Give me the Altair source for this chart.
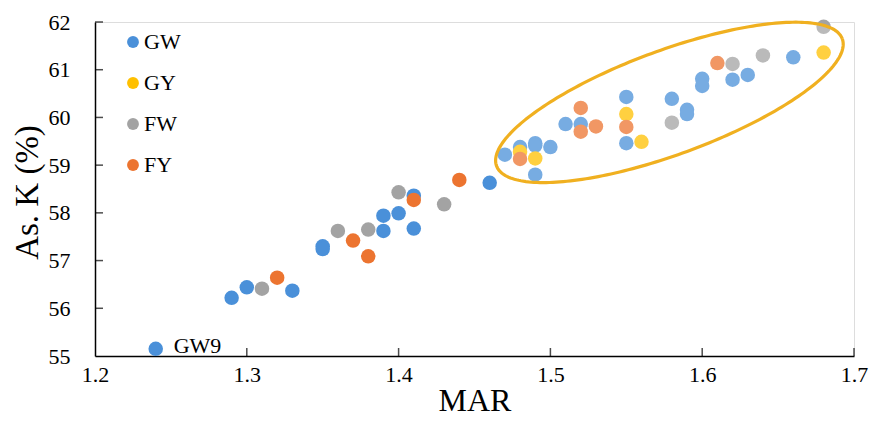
import altair as alt
import numpy as np
import pandas as pd

# ---- data ----
groups = ["GW", "GY", "FW", "FY"]
colors = ["#4A90D9", "#FFC000", "#A3A3A3", "#EC7430"]

gw_x = [1.24, 1.29, 1.30, 1.33, 1.35, 1.35, 1.39, 1.39, 1.40, 1.41, 1.41, 1.46,
        1.47, 1.48, 1.49, 1.49, 1.49, 1.50, 1.51, 1.52, 1.55, 1.55, 1.58, 1.59,
        1.59, 1.60, 1.60, 1.62, 1.63, 1.66]
gw_y = [55.15, 56.22, 56.44, 56.37, 57.30, 57.24, 57.94, 57.62, 57.99, 58.36, 57.67, 58.63,
        59.22, 59.38, 59.46, 59.41, 58.80, 59.38, 59.86, 59.86, 60.43, 59.46, 60.39, 60.16,
        60.07, 60.81, 60.66, 60.79, 60.89, 61.26]

gy_x = [1.48, 1.49, 1.55, 1.56, 1.68]
gy_y = [59.28, 59.14, 60.07, 59.49, 61.36]

fw_x = [1.31, 1.36, 1.38, 1.40, 1.43, 1.58, 1.62, 1.64, 1.68]
fw_y = [56.41, 57.62, 57.65, 58.43, 58.18, 59.89, 61.12, 61.30, 61.90]

fy_x = [1.32, 1.37, 1.38, 1.41, 1.44, 1.48, 1.52, 1.52, 1.53, 1.55, 1.61]
fy_y = [56.64, 57.42, 57.09, 58.27, 58.69, 59.13, 60.20, 59.70, 59.81, 59.80, 61.14]

label_text = ["GW9"]
label_x = [1.24]
label_y = [55.15]

x_tick_vals = [1.2, 1.3, 1.4, 1.5, 1.6, 1.7]
y_tick_vals = [55, 56, 57, 58, 59, 60, 61, 62]

# ellipse annotation (data units): centre and two conjugate semi-axis vectors
ell_center = (1.5784, 60.315)
ell_u = (0.1139, 1.330)
ell_v = (0.01166, -1.027)

# ---- build tables ----
rows = []
for g, xs, ys in [("GW", gw_x, gw_y), ("GY", gy_x, gy_y), ("FW", fw_x, fw_y), ("FY", fy_x, fy_y)]:
    for a, b in zip(xs, ys):
        rows.append({"MAR": a, "K": b, "group": g})
pts = pd.DataFrame(rows)
pts["ord"] = range(len(pts))

labels = pd.DataFrame({"MAR": label_x, "K": label_y, "text": label_text})

cx, cy = ell_center
M = np.array([[ell_u[0], ell_v[0]], [ell_u[1], ell_v[1]]])
N = np.linalg.inv(M)
t = np.linspace(0, 2 * np.pi, 241)
outline = pd.DataFrame({
    "MAR": cx + ell_u[0] * np.cos(t) + ell_v[0] * np.sin(t),
    "K": cy + ell_u[1] * np.cos(t) + ell_v[1] * np.sin(t),
    "i": np.arange(len(t)),
})
rx = np.hypot(ell_u[0], ell_v[0])
s = np.linspace(np.pi, 0, 181)
dx = rx * np.cos(s) * 0.99999
A = N[0, 1] ** 2 + N[1, 1] ** 2
B = 2 * dx * (N[0, 0] * N[0, 1] + N[1, 0] * N[1, 1])
C = dx ** 2 * (N[0, 0] ** 2 + N[1, 0] ** 2) - 1
disc = np.sqrt(np.clip(B ** 2 - 4 * A * C, 0, None))
fill = pd.DataFrame({
    "MAR": cx + dx,
    "K1": cy + (-B + disc) / (2 * A),
    "K2": cy + (-B - disc) / (2 * A),
})

W, H = 759, 334
FONT = "Liberation Serif"

xscale = alt.Scale(domain=[1.2, 1.7], nice=False, zero=False)
yscale = alt.Scale(domain=[55, 62], nice=False, zero=False)

xaxis = alt.Axis(values=x_tick_vals, format=".1f", labelPadding=8, labelFlush=False,
                 labelFont=FONT, title="MAR", titleBaseline="alphabetic", titleY=54,
                 titleFontSize=32)
yaxis = alt.Axis(values=y_tick_vals, format="d", labelPadding=25, labelFlush=False,
                 labelFont=FONT, title="As. K (%)",
                 titleAngle=270, titleBaseline="alphabetic", titleX=-58, titleY=170,
                 titleAlign="center")

points = alt.Chart(pts).mark_circle(size=210, opacity=1).encode(
    x=alt.X("MAR:Q", scale=xscale, axis=xaxis),
    y=alt.Y("K:Q", scale=yscale, axis=yaxis),
    color=alt.Color("group:N", scale=alt.Scale(domain=groups, range=colors),
                    legend=alt.Legend(orient="none", legendX=27, legendY=9, title=None,
                                      symbolType="circle", symbolSize=140,
                                      symbolStrokeWidth=0, symbolOpacity=1,
                                      labelFont=FONT, labelFontSize=22, labelColor="black",
                                      labelOffset=0, rowPadding=19, padding=0)),
    order=alt.Order("ord:Q"),
)

text = alt.Chart(labels).mark_text(align="left", baseline="middle", dx=18, dy=-3,
                                   font=FONT, fontSize=22, color="black").encode(
    x=alt.X("MAR:Q", scale=xscale), y=alt.Y("K:Q", scale=yscale), text="text:N")

wash = alt.Chart(fill).mark_area(color="white", opacity=0.25).encode(
    x=alt.X("MAR:Q", scale=xscale), y=alt.Y("K1:Q", scale=yscale), y2="K2:Q")

ring = alt.Chart(outline).mark_line(color="#F0B020", strokeWidth=3.2).encode(
    x=alt.X("MAR:Q", scale=xscale), y=alt.Y("K:Q", scale=yscale), order="i:Q")

xt = alt.Chart(pd.DataFrame({"v": x_tick_vals[1:]})).mark_tick(
    color="black", thickness=1.5, size=8).encode(
    x=alt.X("v:Q", scale=xscale), y=alt.value(H - 4))
yt = alt.Chart(pd.DataFrame({"v": y_tick_vals[1:]})).mark_tick(
    color="black", thickness=1.5, size=8).encode(
    y=alt.Y("v:Q", scale=yscale), x=alt.value(4))

chart = alt.layer(points, text, wash, ring, xt, yt).properties(
    width=W, height=H,
    autosize=alt.AutoSizeParams(type="none"),
    padding={"left": 87, "top": 14, "right": 15, "bottom": 62},
).configure_view(stroke=None).configure(background="white", font=FONT).configure_axis(
    labelFont=FONT, labelFontSize=22, labelColor="black",
    titleFont=FONT, titleFontSize=33, titleFontWeight="normal", titleColor="black",
    ticks=False, tickSize=0, grid=False, domainColor="black", domainWidth=1.5,
).configure_legend(labelFont=FONT)

chart.save("out.html", embed_options={"renderer": "svg", "actions": False})
